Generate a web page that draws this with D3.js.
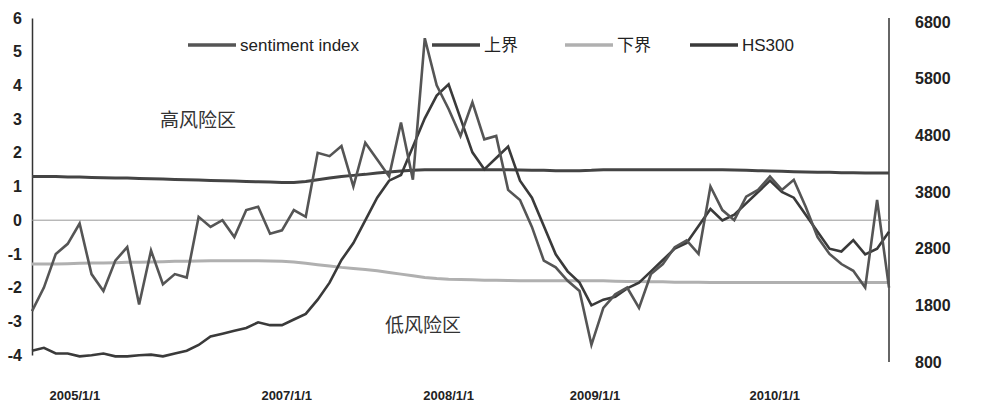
<!DOCTYPE html>
<html><head><meta charset="utf-8">
<script src="https://cdn.jsdelivr.net/npm/d3@7"></script>
<style>body{margin:0;background:#fff}</style>
</head><body><div id="chart"></div>
<script>
// monthly series, 2005/1 .. 2011/1
const sentiment = [-2.7,-2.0,-1.0,-0.7,-0.1,-1.6,-2.1,-1.2,-0.8,-2.5,-0.9,-1.9,-1.6,-1.7,0.1,-0.2,0.0,-0.5,0.3,0.4,-0.4,-0.3,0.3,0.1,
  2.0,1.9,2.2,1.0,2.3,1.8,1.3,2.9,1.2,5.4,4.0,3.3,2.5,3.5,2.4,2.5,0.9,0.6,-0.2,-1.2,-1.4,-1.8,-2.1,-3.7,
  -2.6,-2.2,-2.0,-2.6,-1.6,-1.3,-0.8,-0.6,-1.0,1.0,0.3,0.0,0.7,0.9,1.3,0.9,1.2,0.4,-0.5,-1.0,-1.3,-1.5,-2.0,0.6,-2.0];
const hs300 = [1000,1050,950,950,900,920,950,900,900,920,930,900,950,1000,1100,1250,1300,1350,1400,1500,1450,1450,1550,1650,
  1900,2200,2600,2900,3300,3700,4000,4100,4600,5100,5500,5700,5100,4500,4200,4400,4600,4000,3700,3200,2700,2400,2200,1800,
  1900,1950,2100,2200,2400,2600,2800,2900,3200,3500,3300,3400,3600,3800,4000,3800,3700,3400,3100,2800,2750,2950,2700,2800,3100];
const upper = [1.3,1.3,1.3,1.28,1.28,1.27,1.26,1.25,1.25,1.24,1.23,1.22,1.21,1.2,1.19,1.18,1.17,1.16,1.15,1.14,1.13,1.12,1.12,1.15,
  1.2,1.25,1.3,1.33,1.36,1.4,1.43,1.46,1.48,1.5,1.5,1.5,1.5,1.5,1.5,1.5,1.5,1.49,1.48,1.48,1.47,1.47,1.47,1.48,
  1.5,1.5,1.5,1.5,1.5,1.5,1.5,1.5,1.5,1.5,1.5,1.49,1.48,1.47,1.46,1.45,1.44,1.43,1.42,1.42,1.41,1.41,1.4,1.4,1.4];
const lower = [-1.3,-1.3,-1.3,-1.29,-1.28,-1.27,-1.27,-1.26,-1.25,-1.25,-1.24,-1.23,-1.22,-1.22,-1.21,-1.2,-1.2,-1.2,-1.2,-1.2,-1.21,-1.22,-1.24,-1.28,
  -1.32,-1.36,-1.4,-1.43,-1.46,-1.5,-1.55,-1.6,-1.65,-1.7,-1.73,-1.75,-1.76,-1.77,-1.78,-1.78,-1.79,-1.8,-1.8,-1.8,-1.8,-1.8,-1.8,-1.8,
  -1.8,-1.81,-1.82,-1.82,-1.83,-1.83,-1.84,-1.84,-1.84,-1.85,-1.85,-1.85,-1.85,-1.85,-1.85,-1.85,-1.85,-1.85,-1.85,-1.85,-1.85,-1.85,-1.85,-1.85,-1.85];
const leftTicks = [-4,-3,-2,-1,0,1,2,3,4,5,6];
const rightTicks = [800,1800,2800,3800,4800,5800,6800];
const dateLabels = [{t:"2005/1/1",i:3.6},{t:"2007/1/1",i:21.4},{t:"2008/1/1",i:35},{t:"2009/1/1",i:47.3},{t:"2010/1/1",i:62.4}];

const W = 982, H = 419;
const svg = d3.select("#chart").append("svg").attr("width", W).attr("height", H);

const x = d3.scaleLinear().domain([0, sentiment.length - 1]).range([32, 889]);
const yL = d3.scaleLinear().domain([-4, 6]).range([355, 18]);
const yR = d3.scaleLinear().domain([800, 6800]).range([362, 22]);

const font = "'Liberation Sans', Arial, sans-serif";

// left axis
svg.append("g").attr("transform", "translate(32,0)")
  .call(d3.axisLeft(yL).tickValues(leftTicks).tickSize(0).tickPadding(10).tickFormat(d => String(d)))
  .call(g => g.select(".domain").attr("stroke", "#333").attr("stroke-width", 1.5))
  .selectAll("text").attr("font-family", font).attr("font-size", 16).attr("font-weight", "bold").attr("fill", "#222");

// right axis
svg.append("g").attr("transform", "translate(889,0)")
  .call(d3.axisRight(yR).tickValues(rightTicks).tickSize(0).tickPadding(26).tickFormat(d => String(d)))
  .call(g => g.select(".domain").attr("stroke", "#333").attr("stroke-width", 1.5).attr("d", "M0,18V362"))
  .selectAll("text").attr("font-family", font).attr("font-size", 16).attr("font-weight", "bold").attr("fill", "#222");

// zero line
svg.append("line").attr("x1", 32).attr("x2", 889).attr("y1", yL(0)).attr("y2", yL(0))
  .attr("stroke", "#999").attr("stroke-width", 1);

// date labels
svg.selectAll(".dl").data(dateLabels).join("text")
  .attr("x", d => x(d.i)).attr("y", 400).attr("text-anchor", "middle")
  .attr("font-family", font).attr("font-size", 13).attr("font-weight", "bold").attr("fill", "#222")
  .text(d => d.t);

const lineL = d3.line().x((d, i) => x(i)).y(d => yL(d));
const lineR = d3.line().x((d, i) => x(i)).y(d => yR(d));

svg.append("path").datum(lower).attr("d", lineL).attr("fill", "none").attr("stroke", "#b0b0b0").attr("stroke-width", 3);
svg.append("path").datum(upper).attr("d", lineL).attr("fill", "none").attr("stroke", "#444").attr("stroke-width", 3);
svg.append("path").datum(hs300).attr("d", lineR).attr("fill", "none").attr("stroke", "#3a3a3a").attr("stroke-width", 2.6);
svg.append("path").datum(sentiment).attr("d", lineL).attr("fill", "none").attr("stroke", "#555").attr("stroke-width", 2.6);

// legend
const legend = [
  {t:"sentiment index", x1:188, c:"#555"},
  {t:"上界", x1:432, c:"#444"},
  {t:"下界", x1:565, c:"#b0b0b0"},
  {t:"HS300", x1:690, c:"#3a3a3a"}
];
const lg = svg.selectAll(".lg").data(legend).join("g");
lg.append("line").attr("x1", d => d.x1).attr("x2", d => d.x1 + 48).attr("y1", 45).attr("y2", 45)
  .attr("stroke", d => d.c).attr("stroke-width", 3.5);
lg.append("text").attr("x", d => d.x1 + 52).attr("y", 51)
  .attr("font-family", "'Liberation Sans','Noto Sans CJK SC',sans-serif").attr("font-size", 17).attr("fill", "#222")
  .text(d => d.t);

// zone labels
svg.append("text").attr("x", 160).attr("y", 127).attr("font-family", "'Noto Sans CJK SC'")
  .attr("font-size", 19).attr("fill", "#333").text("高风险区");
svg.append("text").attr("x", 385).attr("y", 332).attr("font-family", "'Noto Sans CJK SC'")
  .attr("font-size", 19).attr("fill", "#333").text("低风险区");
</script></body></html>
